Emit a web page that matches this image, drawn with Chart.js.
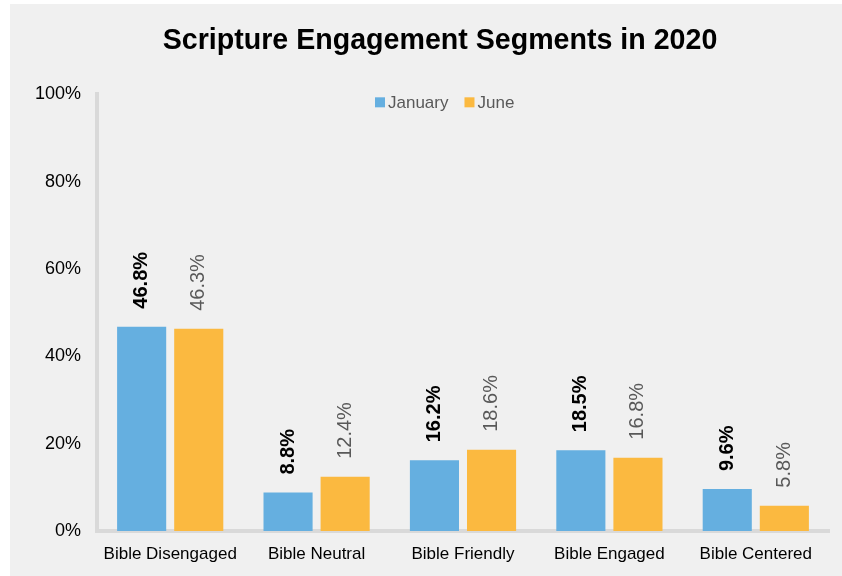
<!DOCTYPE html>
<html>
<head>
<meta charset="utf-8">
<script src="https://cdn.jsdelivr.net/npm/chart.js@4"></script>
<style>
  html, body { margin: 0; padding: 0; background: #ffffff; }
  #panel { position: absolute; left: 10px; top: 4px; width: 832px; height: 572px; background: #f0f0f0; }
</style>
</head>
<body>
<div id="panel"><canvas id="grafico-segmentos" width="832" height="572"></canvas></div>
<script>
var segmentos = ["Bible Disengaged", "Bible Neutral", "Bible Friendly", "Bible Engaged", "Bible Centered"];
var janeiro = [46.8, 8.8, 16.2, 18.5, 9.6];
var junho = [46.3, 12.4, 18.6, 16.8, 5.8];
var marcasEixo = [0, 20, 40, 60, 80, 100];

var fonte = "'Liberation Sans', Arial, sans-serif";

// rotulos verticais acima de cada barra
var rotulosBarras = {
    id: "rotulosBarras",
    afterDatasetsDraw: function (chart) {
        var ctx = chart.ctx;
        chart.data.datasets.forEach(function (ds, i) {
            var meta = chart.getDatasetMeta(i);
            meta.data.forEach(function (barra, j) {
                ctx.save();
                ctx.translate(barra.x, barra.y - 18);
                ctx.rotate(-Math.PI / 2);
                ctx.font = (i == 0 ? "bold " : "") + "20px " + fonte;
                ctx.fillStyle = i == 0 ? "#000000" : "#595959";
                ctx.textAlign = "left";
                ctx.textBaseline = "middle";
                ctx.fillText(ds.data[j].toFixed(1) + "%", 0, 0);
                ctx.restore();
            });
        });
    }
};

// legenda desenhada dentro da area do grafico, no topo
var legendaInterna = {
    id: "legendaInterna",
    afterDraw: function (chart) {
        var ctx = chart.ctx;
        var area = chart.chartArea;
        ctx.save();
        ctx.font = "17px " + fonte;
        var x = 365;
        var y = area.top + 8;
        chart.data.datasets.forEach(function (ds) {
            ctx.fillStyle = ds.backgroundColor;
            ctx.fillRect(x, y - 5, 10, 10);
            ctx.fillStyle = "#595959";
            ctx.textAlign = "left";
            ctx.textBaseline = "middle";
            ctx.fillText(ds.label, x + 13, y + 1);
            x += 13 + ctx.measureText(ds.label).width + 16;
        });
        ctx.restore();
    }
};

// titulo um pouco deslocado para a direita
var ajusteTitulo = {
    id: "ajusteTitulo",
    afterLayout: function (chart) {
        if (chart.titleBlock) chart.titleBlock.left += 24;
    }
};

var referencia = document.querySelector("#grafico-segmentos").getContext("2d");

var grafico = new Chart(referencia, {
    type: "bar",
    data: {
        labels: segmentos,
        datasets: [{
            label: "January",
            backgroundColor: "#65afe0",
            data: janeiro,
            categoryPercentage: 0.78,
            barPercentage: 0.86
        },
        {
            label: "June",
            backgroundColor: "#fbb940",
            data: junho,
            categoryPercentage: 0.78,
            barPercentage: 0.86
        }]
    },
    options: {
        responsive: false,
        animation: false,
        layout: { padding: { left: 17, right: 13 } },
        plugins: {
            title: {
                display: true,
                text: "Scripture Engagement Segments in 2020",
                color: "#000000",
                font: { family: fonte, size: 28.6, weight: "bold" },
                padding: { top: 20, bottom: 36 }
            },
            legend: { display: false },
            tooltip: { enabled: false }
        },
        scales: {
            x: {
                grid: { display: false },
                border: { display: true, color: "#d9d9d9", width: 4 },
                ticks: {
                    color: "#000000",
                    font: { family: fonte, size: 17 },
                    padding: 5,
                    maxRotation: 0,
                    minRotation: 0,
                    autoSkip: false
                },
                afterFit: function (escala) { escala.height = 45; }
            },
            y: {
                min: 0,
                max: 100,
                grid: { display: false },
                border: { display: true, color: "#d9d9d9", width: 4 },
                afterBuildTicks: function (escala) {
                    escala.ticks = marcasEixo.map(function (v) { return { value: v }; });
                },
                ticks: {
                    color: "#000000",
                    padding: 8,
                    font: { family: fonte, size: 18 },
                    callback: function (v) { return v + "%"; }
                },
                afterFit: function (escala) { escala.width = 70; }
            }
        }
    },
    plugins: [rotulosBarras, legendaInterna, ajusteTitulo]
});
</script>
</body>
</html>
